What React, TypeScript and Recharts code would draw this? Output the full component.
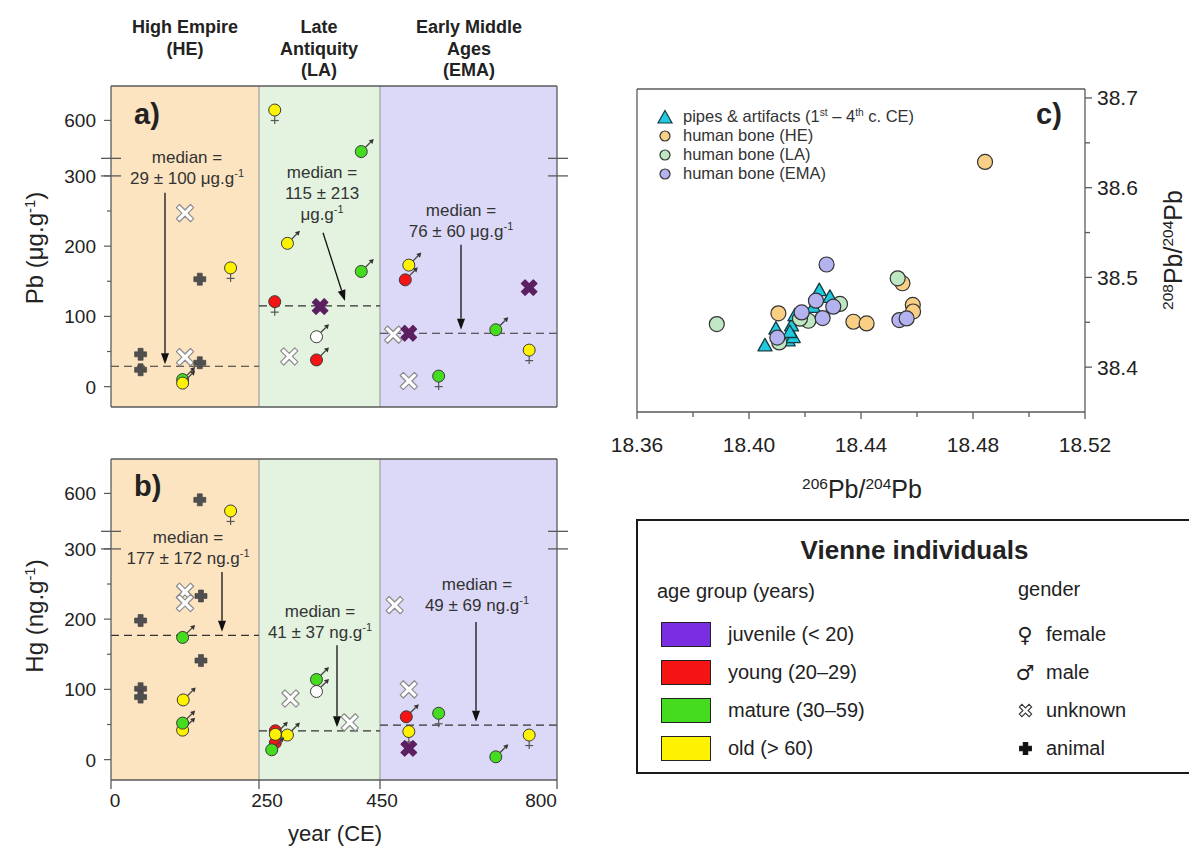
import React from 'react'
import {
  ScatterChart,
  Scatter,
  XAxis,
  YAxis,
  ReferenceArea,
  ReferenceLine,
  ReferenceDot,
} from 'recharts'

const FONT = '"Liberation Sans", Arial, Helvetica, sans-serif'
const INK = '#222'
const FRAME = '#5a5a5a'

type Age = 'juvenile' | 'young' | 'mature' | 'old' | 'unknown'
type Sex = 'female' | 'male' | 'unknown' | 'animal'

interface Sample {
  year: number
  value: number
  age: Age
  sex: Sex
}

interface Ratio {
  r206: number
  r208: number
}

// period boundaries (years CE) and where each one sits on the time axis
const PERIOD_YEARS = [0, 250, 450, 800]
const PERIOD_AXIS = [0, 148, 269, 446]
const PERIOD_FILLS = ['#fce4c1', '#e3f3df', '#dcd9f8']
// small nudges for the year labels under the axis
const YEAR_LABEL_SHIFT = [4, 8, 2, -16]

const PB_MEDIAN = [29, 115, 76]
const PB_SPREAD = [100, 213, 60]
const HG_MEDIAN = [177, 41, 49]
const HG_SPREAD = [172, 37, 69]

const CONC_TICKS = [0, 50, 100, 150, 200, 250, 300, 600]
const CONC_LABELLED = [0, 100, 200, 300, 600]

// Pb in bone, µg/g
const pbSamples: Sample[] = [
  { year: 50, value: 46, age: 'unknown', sex: 'animal' },
  { year: 50, value: 24, age: 'unknown', sex: 'animal' },
  { year: 150, value: 153, age: 'unknown', sex: 'animal' },
  { year: 125, value: 247, age: 'unknown', sex: 'unknown' },
  { year: 125, value: 42, age: 'unknown', sex: 'unknown' },
  { year: 150, value: 34, age: 'unknown', sex: 'animal' },
  { year: 121, value: 10, age: 'mature', sex: 'male' },
  { year: 121, value: 5, age: 'old', sex: 'male' },
  { year: 202, value: 169, age: 'old', sex: 'female' },
  { year: 276, value: 629, age: 'old', sex: 'female' },
  { year: 419, value: 513, age: 'mature', sex: 'male' },
  { year: 297, value: 204, age: 'old', sex: 'male' },
  { year: 419, value: 164, age: 'mature', sex: 'male' },
  { year: 276, value: 121, age: 'young', sex: 'female' },
  { year: 351, value: 114, age: 'juvenile', sex: 'unknown' },
  { year: 345, value: 71, age: 'unknown', sex: 'male' },
  { year: 300, value: 43, age: 'unknown', sex: 'unknown' },
  { year: 345, value: 38, age: 'young', sex: 'male' },
  { year: 507, value: 173, age: 'old', sex: 'male' },
  { year: 500, value: 152, age: 'young', sex: 'male' },
  { year: 745, value: 141, age: 'juvenile', sex: 'unknown' },
  { year: 476, value: 74, age: 'unknown', sex: 'unknown' },
  { year: 507, value: 76, age: 'juvenile', sex: 'unknown' },
  { year: 679, value: 81, age: 'mature', sex: 'male' },
  { year: 745, value: 52, age: 'old', sex: 'female' },
  { year: 507, value: 8, age: 'unknown', sex: 'unknown' },
  { year: 566, value: 15, age: 'mature', sex: 'female' },
]

// Hg in bone, ng/g
const hgSamples: Sample[] = [
  { year: 150, value: 582, age: 'unknown', sex: 'animal' },
  { year: 202, value: 551, age: 'old', sex: 'female' },
  { year: 125, value: 239, age: 'unknown', sex: 'unknown' },
  { year: 125, value: 223, age: 'unknown', sex: 'unknown' },
  { year: 152, value: 233, age: 'unknown', sex: 'animal' },
  { year: 50, value: 198, age: 'unknown', sex: 'animal' },
  { year: 121, value: 174, age: 'mature', sex: 'male' },
  { year: 152, value: 141, age: 'unknown', sex: 'animal' },
  { year: 50, value: 101, age: 'unknown', sex: 'animal' },
  { year: 50, value: 89, age: 'unknown', sex: 'animal' },
  { year: 122, value: 85, age: 'old', sex: 'male' },
  { year: 121, value: 42, age: 'old', sex: 'male' },
  { year: 121, value: 52, age: 'mature', sex: 'male' },
  { year: 345, value: 114, age: 'mature', sex: 'male' },
  { year: 345, value: 97, age: 'unknown', sex: 'male' },
  { year: 302, value: 87, age: 'unknown', sex: 'unknown' },
  { year: 400, value: 53, age: 'unknown', sex: 'unknown' },
  { year: 277, value: 41, age: 'young', sex: 'female' },
  { year: 277, value: 24, age: 'young', sex: 'male' },
  { year: 277, value: 36, age: 'old', sex: 'male' },
  { year: 297, value: 35, age: 'old', sex: 'male' },
  { year: 271, value: 14, age: 'mature', sex: 'male' },
  { year: 479, value: 220, age: 'unknown', sex: 'unknown' },
  { year: 507, value: 100, age: 'unknown', sex: 'unknown' },
  { year: 502, value: 61, age: 'young', sex: 'male' },
  { year: 566, value: 66, age: 'mature', sex: 'female' },
  { year: 507, value: 40, age: 'old', sex: 'female' },
  { year: 507, value: 16, age: 'juvenile', sex: 'unknown' },
  { year: 679, value: 4, age: 'mature', sex: 'male' },
  { year: 745, value: 35, age: 'old', sex: 'female' },
]

// lead isotope ratios
const pipeRatios: Ratio[] = [
  { r206: 18.4057, r208: 38.4237 },
  { r206: 18.4096, r208: 38.4424 },
  { r206: 18.414, r208: 38.4293 },
  { r206: 18.4152, r208: 38.446 },
  { r206: 18.4158, r208: 38.433 },
  { r206: 18.4146, r208: 38.4386 },
  { r206: 18.4164, r208: 38.4573 },
  { r206: 18.4251, r208: 38.4853 },
  { r206: 18.4289, r208: 38.4778 },
  { r206: 18.423, r208: 38.4667 },
  { r206: 18.4193, r208: 38.4555 },
]

const heRatios: Ratio[] = [
  { r206: 18.4843, r208: 38.6287 },
  { r206: 18.4105, r208: 38.46 },
  { r206: 18.4373, r208: 38.4506 },
  { r206: 18.442, r208: 38.4487 },
  { r206: 18.4548, r208: 38.4935 },
  { r206: 18.4585, r208: 38.4693 },
  { r206: 18.4586, r208: 38.462 },
]

const laRatios: Ratio[] = [
  { r206: 18.3885, r208: 38.448 },
  { r206: 18.4531, r208: 38.499 },
  { r206: 18.4108, r208: 38.4275 },
  { r206: 18.4212, r208: 38.4517 },
  { r206: 18.4325, r208: 38.4704 },
  { r206: 18.4182, r208: 38.454 },
]

const emaRatios: Ratio[] = [
  { r206: 18.4277, r208: 38.5144 },
  { r206: 18.4537, r208: 38.4525 },
  { r206: 18.4563, r208: 38.4543 },
  { r206: 18.4188, r208: 38.461 },
  { r206: 18.4239, r208: 38.4741 },
  { r206: 18.4263, r208: 38.4547 },
  { r206: 18.4301, r208: 38.4674 },
  { r206: 18.4101, r208: 38.433 },
]

const R206_TICKS = [18.36, 18.38, 18.4, 18.42, 18.44, 18.46, 18.48, 18.5, 18.52]
const R208_TICKS = [38.4, 38.45, 38.5, 38.55, 38.6, 38.65, 38.7]

const AGE_COLORS: Record<Age, string> = {
  juvenile: '#7b2de2',
  young: '#f41414',
  mature: '#45dc20',
  old: '#fff200',
  unknown: '#ffffff',
}
const JUVENILE_CROSS = '#5c1f60'

const AGE_KEY: { age: Age; label: string }[] = [
  { age: 'juvenile', label: 'juvenile (< 20)' },
  { age: 'young', label: 'young (20–29)' },
  { age: 'mature', label: 'mature (30–59)' },
  { age: 'old', label: 'old (> 60)' },
]

const PIPE_COLOR = '#20c9dd'
const BONE_SERIES = [
  { name: 'human bone (HE)', color: '#f8cf84', data: heRatios },
  { name: 'human bone (LA)', color: '#bfe7c3', data: laRatios },
  { name: 'human bone (EMA)', color: '#b4b2ef', data: emaRatios },
]

// time axis is piecewise linear: each period gets its own stretch
const toAxisYear = (year: number) => {
  for (let i = 1; i < PERIOD_YEARS.length; i++) {
    if (year <= PERIOD_YEARS[i]) {
      const f = (year - PERIOD_YEARS[i - 1]) / (PERIOD_YEARS[i] - PERIOD_YEARS[i - 1])
      return PERIOD_AXIS[i - 1] + f * (PERIOD_AXIS[i] - PERIOD_AXIS[i - 1])
    }
  }
  return PERIOD_AXIS[PERIOD_AXIS.length - 1]
}

// concentrations above the break are squeezed into the upper strip
const BREAK_LOW = 300
const BREAK_HIGH = 500
const toAxisConc = (v: number) => (v <= BREAK_LOW ? v : 328 + (v - BREAK_HIGH) * 0.51)
const CONC_DOMAIN = [-29, 428]
const BREAK_MARKS = [300, 325]

interface Note {
  u: number
  t: number
  wrap?: boolean
}
interface Arrow {
  from: [number, number]
  to: [number, number]
}

const PB_NOTES: Note[] = [
  { u: 76, t: 327 },
  { u: 211, t: 305, wrap: true },
  { u: 350, t: 251 },
]
const PB_ARROWS: Arrow[] = [
  { from: [54, 276], to: [54, 32] },
  { from: [212, 219], to: [234, 122] },
  { from: [350, 202], to: [350, 81] },
]
const HG_NOTES: Note[] = [
  { u: 77, t: 317 },
  { u: 209, t: 211 },
  { u: 366, t: 250 },
]
const HG_ARROWS: Arrow[] = [
  { from: [111, 267], to: [111, 182] },
  { from: [226, 163], to: [226, 46] },
  { from: [365, 196], to: [365, 54] },
]

function crossPath(cx: number, cy: number, arm: number, half: number, rotate: boolean) {
  const pts = [
    [-half, -arm], [half, -arm], [half, -half], [arm, -half], [arm, half], [half, half],
    [half, arm], [-half, arm], [-half, half], [-arm, half], [-arm, -half], [-half, -half],
  ]
  const k = Math.SQRT1_2
  return (
    pts
      .map(([x, y], i) => {
        const px = rotate ? (x - y) * k : x
        const py = rotate ? (x + y) * k : y
        return `${i === 0 ? 'M' : 'L'}${(cx + px).toFixed(2)},${(cy + py).toFixed(2)}`
      })
      .join(' ') + ' Z'
  )
}

function arrowHead(x1: number, y1: number, x2: number, y2: number, len: number, half: number) {
  const a = Math.atan2(y2 - y1, x2 - x1)
  const bx = x2 - len * Math.cos(a)
  const by = y2 - len * Math.sin(a)
  const px = -Math.sin(a) * half
  const py = Math.cos(a) * half
  return { bx, by, points: `${x2},${y2} ${bx + px},${by + py} ${bx - px},${by - py}` }
}

function SampleMark(props: any) {
  const { cx, cy, payload } = props
  if (cx == null || cy == null) return null
  const { age, sex } = payload as Sample
  if (sex === 'animal') {
    return <path d={crossPath(cx, cy, 6, 2.5, false)} fill="#4f4f4f" stroke="#3a3a3a" strokeWidth={0.6} />
  }
  if (sex === 'unknown') {
    const juvenile = age === 'juvenile'
    return (
      <path
        d={crossPath(cx, cy, juvenile ? 8.4 : 10, juvenile ? 2.6 : 2.2, true)}
        fill={juvenile ? JUVENILE_CROSS : '#fff'}
        stroke={juvenile ? JUVENILE_CROSS : '#8c8c8c'}
        strokeWidth={1.2}
        strokeLinejoin="round"
      />
    )
  }
  const r = 6
  const head = arrowHead(cx, cy, cx + 12.5, cy - 12.5, 4.5, 2.6)
  return (
    <g>
      {sex === 'female' && (
        <g stroke="#555" strokeWidth={1.2}>
          <line x1={cx} y1={cy + r} x2={cx} y2={cy + r + 8} />
          <line x1={cx - 4} y1={cy + r + 4.5} x2={cx + 4} y2={cy + r + 4.5} />
        </g>
      )}
      {sex === 'male' && (
        <g>
          <line x1={cx + 3.5} y1={cy - 3.5} x2={head.bx} y2={head.by} stroke="#444" strokeWidth={1.3} />
          <polygon points={head.points} fill="#333" />
        </g>
      )}
      <circle cx={cx} cy={cy} r={r} fill={AGE_COLORS[age]} stroke="#3a3a3a" strokeWidth={1} />
    </g>
  )
}

function ArrowShape(props: any) {
  const { x1, y1, x2, y2 } = props
  const head = arrowHead(x1, y1, x2, y2, 11, 4)
  return (
    <g>
      <line x1={x1} y1={y1} x2={head.bx} y2={head.by} stroke="#111" strokeWidth={1.3} />
      <polygon points={head.points} fill="#111" />
    </g>
  )
}

function MedianNote(props: {
  cx: number
  cy: number
  median: number
  spread: number
  unit: string
  wrap?: boolean
}) {
  const { cx, cy, median, spread, unit, wrap } = props
  const unitText = (
    <>
      {unit}
      <tspan dy={-7} fontSize={11}>
        -1
      </tspan>
    </>
  )
  const lines = wrap
    ? [<>median =</>, <>{`${median} ± ${spread}`}</>, unitText]
    : [<>median =</>, <>{`${median} ± ${spread} `}{unitText}</>]
  return (
    <g fontFamily={FONT} fontSize={17} fill="#333" textAnchor="middle">
      {lines.map((line, i) => (
        <text key={i} x={cx} y={cy + 6 + i * 21}>
          {line}
        </text>
      ))}
    </g>
  )
}

const renderConcTick = (props: any) => {
  const { x, y, payload } = props
  const value = CONC_TICKS.find((v) => Math.abs(toAxisConc(v) - payload.value) < 1e-6)
  const labelled = value !== undefined && CONC_LABELLED.includes(value)
  return (
    <g>
      <line x1={x - (labelled ? 7 : 4)} x2={x} y1={y} y2={y} stroke={FRAME} strokeWidth={1.2} />
      {labelled && (
        <text x={x - 15} y={y + 7} textAnchor="end" fontSize={19} fill={INK} fontFamily={FONT}>
          {value}
        </text>
      )}
    </g>
  )
}

const renderYearTick = (props: any) => {
  const { x, y, payload } = props
  const i = PERIOD_AXIS.indexOf(payload.value)
  return (
    <g>
      <line x1={x} x2={x} y1={y} y2={y + 9} stroke={FRAME} strokeWidth={1.3} />
      <text x={x + YEAR_LABEL_SHIFT[i]} y={y + 27} textAnchor="middle" fontSize={19} fill={INK} fontFamily={FONT}>
        {PERIOD_YEARS[i]}
      </text>
    </g>
  )
}

const renderR206Tick = (props: any) => {
  const { x, y, payload } = props
  const i = R206_TICKS.findIndex((v) => Math.abs(v - payload.value) < 1e-6)
  const major = i % 2 === 0
  return (
    <g>
      <line x1={x} x2={x} y1={y} y2={y + (major ? 7 : 5)} stroke={FRAME} strokeWidth={1.3} />
      {major && (
        <text x={x} y={y + 40} textAnchor="middle" fontSize={21} fill={INK} fontFamily={FONT}>
          {payload.value.toFixed(2)}
        </text>
      )}
    </g>
  )
}

const renderR208Tick = (props: any) => {
  const { x, y, payload } = props
  const major = Math.round(payload.value * 100) % 10 === 0
  return (
    <g>
      <line x1={x} x2={x + (major ? 7 : 5)} y1={y} y2={y} stroke={FRAME} strokeWidth={1.3} />
      {major && (
        <text x={x + 12} y={y + 7.5} textAnchor="start" fontSize={21} fill={INK} fontFamily={FONT}>
          {payload.value.toFixed(1)}
        </text>
      )}
    </g>
  )
}

interface PanelProps {
  samples: Sample[]
  medians: number[]
  spreads: number[]
  unit: string
  notes: Note[]
  arrows: Arrow[]
  showYears: boolean
}

function ConcentrationPanel({ samples, medians, spreads, unit, notes, arrows, showYears }: PanelProps) {
  const points = samples.map((s) => ({ ...s, x: toAxisYear(s.year), y: toAxisConc(s.value) }))
  const right = PERIOD_AXIS[PERIOD_AXIS.length - 1]
  const line = { stroke: FRAME, strokeWidth: 1.3 }
  return (
    <ScatterChart width={600} height={showYears ? 460 : 420} margin={{ top: 86, right: 43, bottom: 13, left: 51 }}>
      <XAxis
        type="number"
        dataKey="x"
        domain={[0, right]}
        ticks={PERIOD_AXIS}
        interval={0}
        hide={!showYears}
        height={40}
        tick={renderYearTick}
        tickSize={0}
        tickMargin={0}
        tickLine={false}
        axisLine={line}
        allowDataOverflow
      />
      <YAxis
        type="number"
        dataKey="y"
        domain={CONC_DOMAIN}
        ticks={CONC_TICKS.map(toAxisConc)}
        interval={0}
        width={60}
        tick={renderConcTick}
        tickSize={0}
        tickMargin={0}
        tickLine={false}
        axisLine={line}
        allowDataOverflow
      />
      {PERIOD_FILLS.map((fill, i) => (
        <ReferenceArea
          key={`period-${i}`}
          x1={PERIOD_AXIS[i]}
          x2={PERIOD_AXIS[i + 1]}
          fill={fill}
          fillOpacity={1}
          stroke="none"
          ifOverflow="visible"
        />
      ))}
      {[PERIOD_AXIS[1], PERIOD_AXIS[2]].map((x) => (
        <ReferenceLine key={`div-${x}`} x={x} stroke="#a0a0a0" strokeWidth={1.2} ifOverflow="visible" />
      ))}
      {medians.map((m, i) => (
        <ReferenceLine
          key={`median-${i}`}
          segment={[
            { x: PERIOD_AXIS[i], y: toAxisConc(m) },
            { x: PERIOD_AXIS[i + 1], y: toAxisConc(m) },
          ]}
          stroke="#333"
          strokeWidth={1.2}
          strokeDasharray="8 5"
          ifOverflow="visible"
        />
      ))}
      {arrows.map((a, i) => (
        <ReferenceLine
          key={`arrow-${i}`}
          segment={[
            { x: a.from[0], y: a.from[1] },
            { x: a.to[0], y: a.to[1] },
          ]}
          shape={ArrowShape}
          ifOverflow="visible"
        />
      ))}
      {notes.map((n, i) => (
        <ReferenceDot
          key={`note-${i}`}
          x={n.u}
          y={n.t}
          r={0}
          ifOverflow="visible"
          shape={(p: any) => (
            <MedianNote cx={p.cx} cy={p.cy} median={medians[i]} spread={spreads[i]} unit={unit} wrap={n.wrap} />
          )}
        />
      ))}
      <Scatter data={points} shape={SampleMark} isAnimationActive={false} />
      <ReferenceLine y={CONC_DOMAIN[1]} {...line} ifOverflow="visible" />
      <ReferenceLine x={right} {...line} ifOverflow="visible" />
      {!showYears && <ReferenceLine y={CONC_DOMAIN[0]} {...line} ifOverflow="visible" />}
      {BREAK_MARKS.flatMap((b) => [
        <ReferenceLine
          key={`brk-l-${b}`}
          segment={[
            { x: -10, y: b },
            { x: 10, y: b },
          ]}
          {...line}
          ifOverflow="visible"
        />,
        <ReferenceLine
          key={`brk-r-${b}`}
          segment={[
            { x: right - 9, y: b },
            { x: right + 11, y: b },
          ]}
          {...line}
          ifOverflow="visible"
        />,
      ])}
    </ScatterChart>
  )
}

const boneShape = (color: string) => (props: any) => {
  const { cx, cy } = props
  if (cx == null || cy == null) return null
  return <circle cx={cx} cy={cy} r={7.5} fill={color} stroke="#333" strokeWidth={1.2} />
}

const pipeShape = (props: any) => {
  const { cx, cy } = props
  if (cx == null || cy == null) return null
  return (
    <polygon
      points={`${cx},${cy - 7.5} ${cx + 7},${cy + 5} ${cx - 7},${cy + 5}`}
      fill={PIPE_COLOR}
      stroke="#163b40"
      strokeWidth={1.3}
      strokeLinejoin="round"
    />
  )
}

function IsotopePanel() {
  const line = { stroke: FRAME, strokeWidth: 1.3 }
  return (
    <ScatterChart width={629} height={520} margin={{ top: 89, right: 44, bottom: 68, left: 77 }}>
      <XAxis
        type="number"
        dataKey="r206"
        domain={[18.36, 18.52]}
        ticks={R206_TICKS}
        interval={0}
        height={40}
        tick={renderR206Tick}
        tickSize={0}
        tickMargin={0}
        tickLine={false}
        axisLine={line}
        allowDataOverflow
      />
      <YAxis
        type="number"
        dataKey="r208"
        orientation="right"
        domain={[38.35, 38.71]}
        ticks={R208_TICKS}
        interval={0}
        width={60}
        tick={renderR208Tick}
        tickSize={0}
        tickMargin={0}
        tickLine={false}
        axisLine={line}
        allowDataOverflow
      />
      <ReferenceLine x={18.36} {...line} ifOverflow="visible" />
      <ReferenceLine y={38.71} {...line} ifOverflow="visible" />
      <Scatter data={pipeRatios} shape={pipeShape} isAnimationActive={false} />
      {BONE_SERIES.map((s) => (
        <Scatter key={s.name} data={s.data} shape={boneShape(s.color)} isAnimationActive={false} />
      ))}
    </ScatterChart>
  )
}

function Sup({ children }: { children: React.ReactNode }) {
  return (
    <span style={{ fontSize: '0.62em', position: 'relative', top: '-0.55em', lineHeight: 0 }}>{children}</span>
  )
}

function CrossIcon({ size, rotate, fill, stroke }: { size: number; rotate: boolean; fill: string; stroke: string }) {
  const c = size / 2
  return (
    <svg width={size} height={size} style={{ display: 'block' }}>
      <path
        d={crossPath(c, c, rotate ? size * 0.46 : size * 0.45, rotate ? size * 0.12 : size * 0.17, rotate)}
        fill={fill}
        stroke={stroke}
        strokeWidth={1.1}
      />
    </svg>
  )
}

const abs = (left: number, top: number, extra: React.CSSProperties = {}): React.CSSProperties => ({
  position: 'absolute',
  left,
  top,
  ...extra,
})

function IsotopeKey() {
  const rowStyle = (top: number): React.CSSProperties =>
    abs(0, top, { display: 'flex', alignItems: 'center', height: 19, whiteSpace: 'nowrap' })
  return (
    <div style={abs(656, 107, { fontSize: 16.5, color: '#333' })}>
      <div style={rowStyle(0)}>
        <svg width={18} height={18}>
          <polygon points="9,2.5 16,15 2,15" fill={PIPE_COLOR} stroke="#163b40" strokeWidth={1.2} />
        </svg>
        <span style={{ marginLeft: 9 }}>
          pipes &amp; artifacts (1<Sup>st</Sup> – 4<Sup>th</Sup> c. CE)
        </span>
      </div>
      {BONE_SERIES.map((s, i) => (
        <div key={s.name} style={rowStyle(19 * (i + 1))}>
          <svg width={18} height={18}>
            <circle cx={9} cy={9} r={5} fill={s.color} stroke="#333" strokeWidth={1.2} />
          </svg>
          <span style={{ marginLeft: 9 }}>{s.name}</span>
        </div>
      ))}
    </div>
  )
}

function IndividualsKey() {
  const row = 38
  const genderRows: { label: string; icon: React.ReactNode }[] = [
    { label: 'female', icon: <span style={{ fontFamily: '"DejaVu Sans"', fontSize: 21 }}>♀</span> },
    { label: 'male', icon: <span style={{ fontFamily: '"DejaVu Sans"', fontSize: 21 }}>♂</span> },
    { label: 'unknown', icon: <CrossIcon size={15} rotate fill="#fff" stroke="#333" /> },
    { label: 'animal', icon: <CrossIcon size={13} rotate={false} fill="#111" stroke="#111" /> },
  ]
  return (
    <div
      style={abs(636, 519, {
        width: 570,
        height: 255,
        border: '2px solid #1a1a1a',
        boxSizing: 'border-box',
        fontSize: 20,
        color: INK,
      })}
    >
      <div style={abs(0, 14, { width: 553, textAlign: 'center', fontWeight: 'bold', fontSize: 26 })}>
        Vienne individuals
      </div>
      <div style={abs(19, 59)}>age group (years)</div>
      {AGE_KEY.map((k, i) => (
        <div key={k.age} style={abs(23, 101 + i * row, { display: 'flex', alignItems: 'center' })}>
          <div
            style={{
              width: 50,
              height: 25,
              background: AGE_COLORS[k.age],
              border: '1.5px solid #222',
              boxSizing: 'border-box',
            }}
          />
          <span style={{ marginLeft: 17 }}>{k.label}</span>
        </div>
      ))}
      <div style={abs(380, 57)}>gender</div>
      {genderRows.map((g, i) => (
        <div key={g.label} style={abs(376, 101 + i * row, { display: 'flex', alignItems: 'center', height: 25 })}>
          <div style={{ width: 22, display: 'flex', justifyContent: 'center' }}>{g.icon}</div>
          <span style={{ marginLeft: 10 }}>{g.label}</span>
        </div>
      ))}
    </div>
  )
}

export default function App() {
  const header: React.CSSProperties = {
    position: 'absolute',
    top: 17,
    width: 200,
    marginLeft: -100,
    textAlign: 'center',
    fontWeight: 'bold',
    fontSize: 18,
    lineHeight: '21.5px',
  }
  const title: React.CSSProperties = { position: 'absolute', whiteSpace: 'nowrap', fontSize: 24 }
  return (
    <div
      style={{
        position: 'absolute',
        left: 0,
        top: 0,
        width: 1189,
        height: 848,
        overflow: 'hidden',
        background: '#fff',
        fontFamily: FONT,
        color: INK,
      }}
    >
      <div style={abs(0, 0)}>
        <ConcentrationPanel
          samples={pbSamples}
          medians={PB_MEDIAN}
          spreads={PB_SPREAD}
          unit="μg.g"
          notes={PB_NOTES}
          arrows={PB_ARROWS}
          showYears={false}
        />
      </div>
      <div style={abs(0, 373)}>
        <ConcentrationPanel
          samples={hgSamples}
          medians={HG_MEDIAN}
          spreads={HG_SPREAD}
          unit="ng.g"
          notes={HG_NOTES}
          arrows={HG_ARROWS}
          showYears
        />
      </div>
      <div style={abs(560, 0)}>
        <IsotopePanel />
      </div>

      <div style={{ ...header, left: 185 }}>
        High Empire
        <br />
        (HE)
      </div>
      <div style={{ ...header, left: 319 }}>
        Late
        <br />
        Antiquity
        <br />
        (LA)
      </div>
      <div style={{ ...header, left: 469 }}>
        Early Middle
        <br />
        Ages
        <br />
        (EMA)
      </div>

      <div style={abs(134, 98, { fontWeight: 'bold', fontSize: 29 })}>a)</div>
      <div style={abs(134, 470, { fontWeight: 'bold', fontSize: 29 })}>b)</div>
      <div style={abs(1036, 98, { fontWeight: 'bold', fontSize: 29 })}>c)</div>

      <div style={{ ...title, left: 35, top: 248, transform: 'translate(-50%, -50%) rotate(-90deg)' }}>
        Pb (μg.g<Sup>-1</Sup>)
      </div>
      <div style={{ ...title, left: 35, top: 616, transform: 'translate(-50%, -50%) rotate(-90deg)' }}>
        Hg (ng.g<Sup>-1</Sup>)
      </div>
      <div style={{ ...title, left: 335, top: 834, transform: 'translate(-50%, -50%)', fontSize: 22 }}>year (CE)</div>
      <div style={{ ...title, left: 862, top: 489, transform: 'translate(-50%, -50%)', fontSize: 25 }}>
        <Sup>206</Sup>Pb/<Sup>204</Sup>Pb
      </div>
      <div style={{ ...title, left: 1173, top: 250, transform: 'translate(-50%, -50%) rotate(-90deg)', fontSize: 25 }}>
        <Sup>208</Sup>Pb/<Sup>204</Sup>Pb
      </div>

      <IsotopeKey />
      <IndividualsKey />
    </div>
  )
}
